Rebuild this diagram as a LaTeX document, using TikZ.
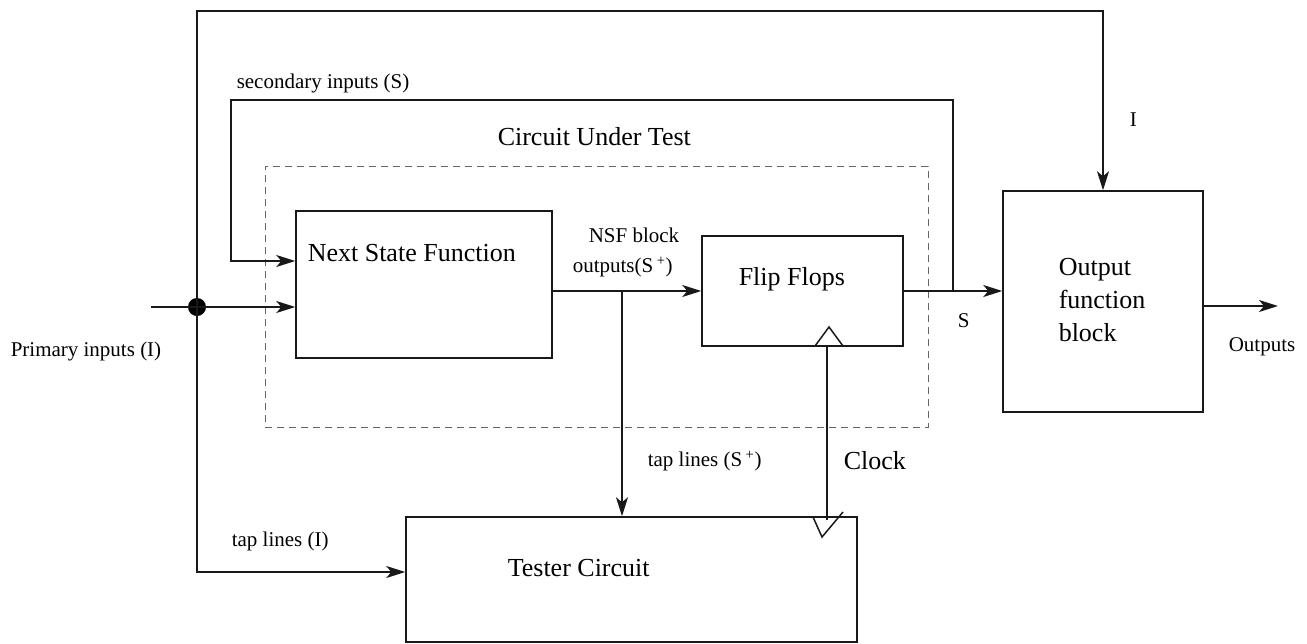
\documentclass[tikz,border=0pt]{standalone}
\usepackage{fontspec}
\setmainfont{Liberation Serif}
\usetikzlibrary{arrows.meta}
\begin{document}
\begin{tikzpicture}[x=1pt,y=-1pt,
  line width=1.5pt, draw=black!90,
  blk/.style={draw, rectangle, inner sep=0pt},
  cutbox/.style={draw=black!60, line width=1pt, dash pattern=on 7pt off 5pt, rectangle, inner sep=0pt},
  arr/.style={-{Stealth[length=19pt,width=12pt,inset=5pt]}},
  small/.style={inner sep=0pt, anchor=west, font=\fontsize{21}{25}\selectfont},
  big/.style={inner sep=0pt, anchor=west, font=\fontsize{26}{33}\selectfont},
  jdot/.style={circle, fill=black, inner sep=0pt, minimum size=18pt}]
\useasboundingbox (0,0) rectangle (1307,643);

% blocks
\node[cutbox, minimum width=663pt, minimum height=261pt] (cut) at (596.5,296.5) {};
\node[blk, minimum width=256pt, minimum height=147pt] (nsf) at (424,284.5) {};
\node[blk, minimum width=201pt, minimum height=110pt] (ff) at (802.5,291) {};
\node[blk, minimum width=200pt, minimum height=221pt] (out) at (1103,301.5) {};
\node[blk, minimum width=451pt, minimum height=125pt] (tester) at (631.5,579.5) {};

% block texts
\node[big] (tcut) at (497,137) {Circuit Under Test};
\node[big] (tnsf) at (307,253) {Next State Function};
\node[big] (tff) at (738,279) {Flip Flops};
\node[big, align=left] (tout) at (1058,300) {Output\\function\\block};
\node[big] (ttest) at (507,568) {Tester Circuit};
\node[big] (tclk) at (843,461) {Clock};

% signal labels
\node[small] (lpi) at (10,351) {Primary inputs (I)};
\node[small] (lsec) at (236,83) {secondary inputs (S)};
\node[small] (lnsf1) at (588,235) {NSF block};
\node[small] (lnsf2) at (572,267) {outputs(S\,\textsuperscript{+})};
\node[small] (ltapS) at (647,461) {tap lines (S\,\textsuperscript{+})};
\node[small] (ltapI) at (231,541) {tap lines (I)};
\node[small] (lS) at (957,321) {S};
\node[small] (lI) at (1129,120) {I};
\node[small] (lout) at (1228,347) {Outputs};

% junctions and free ends
\coordinate (pin) at (151,307);
\node[jdot] (dot) at (197,307) {};
\coordinate (topc) at (1103,11);
\coordinate (split) at (622,291);
\coordinate (sj) at (953,291);
\coordinate (sl) at (231,100);
\coordinate (oend) at (1278,306);

% primary inputs
\draw[arr] (pin) -- (pin -| nsf.west);
\draw[arr] (dot.center) |- (topc) -- (out.north);
\draw[arr] (dot.center) |- ([yshift=7.5pt]tester.west);

% state path
\draw[arr] (ff.west -| nsf.east) -- (ff.west);
\draw[arr] (split) -- (split |- tester.north);
\draw[arr] (ff.east) -- (ff.east -| out.west);
\draw[arr] (sj) |- (sl) |- ([yshift=23.5pt]nsf.west);

% outputs
\draw[arr] ([yshift=-4.5pt]out.east) -- (oend);

% clock
\draw (815,346) -- (829,327) -- (843,346);
\draw (827,346) -- (827,520);
\draw (813,517) -- (822,537) -- (843,512);
\end{tikzpicture}
\end{document}
